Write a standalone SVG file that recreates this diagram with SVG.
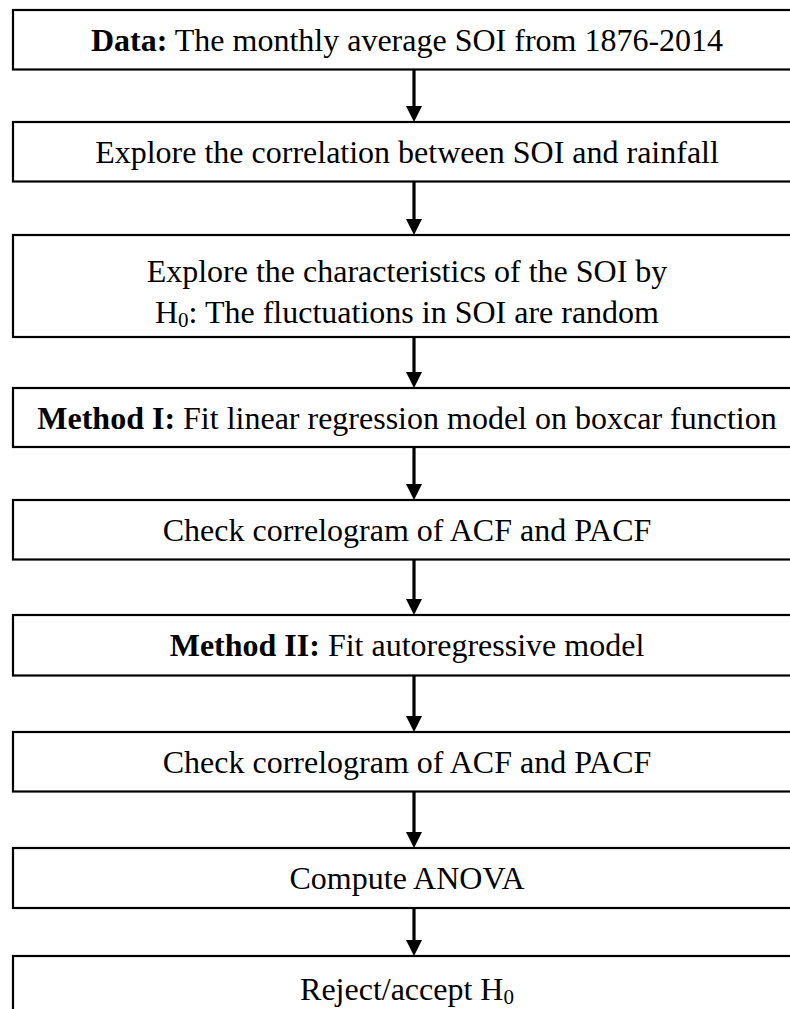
<svg xmlns="http://www.w3.org/2000/svg" width="790" height="1009" viewBox="0 0 790 1009">
<style>
.box{fill:#fff;stroke:#000;stroke-width:2.2}
.t{font-family:"Liberation Serif","Times New Roman",serif;font-size:32px;fill:#000;text-anchor:middle}
.b{font-weight:bold}
.sub{font-size:21px}
.conn{stroke:#000;stroke-width:3.2;fill:none}
</style>
<defs>
<marker id="ah" markerUnits="userSpaceOnUse" markerWidth="17" markerHeight="17" refX="1" refY="8" orient="auto" viewBox="0 0 17 16">
<path d="M0,0 L16,8 L0,16 z" fill="#000"/>
</marker>
</defs>
<rect width="790" height="1009" fill="#fff"/>
<g id="connectors">
<line class="conn" x1="414" y1="69.5" x2="414" y2="107" marker-end="url(#ah)"/>
<line class="conn" x1="414" y1="181.5" x2="414" y2="220" marker-end="url(#ah)"/>
<line class="conn" x1="414" y1="337" x2="414" y2="373" marker-end="url(#ah)"/>
<line class="conn" x1="414" y1="447" x2="414" y2="485" marker-end="url(#ah)"/>
<line class="conn" x1="414" y1="559.5" x2="414" y2="600" marker-end="url(#ah)"/>
<line class="conn" x1="414" y1="675.5" x2="414" y2="717" marker-end="url(#ah)"/>
<line class="conn" x1="414" y1="791.5" x2="414" y2="833" marker-end="url(#ah)"/>
<line class="conn" x1="414" y1="908" x2="414" y2="941" marker-end="url(#ah)"/>
</g>
<g id="n1"><rect class="box" x="13" y="10" width="788" height="59.5"/><text class="t" x="407" y="51"><tspan class="b">Data:</tspan> The monthly average SOI from 1876-2014</text></g>
<g id="n2"><rect class="box" x="13" y="122" width="788" height="59.5"/><text class="t" x="407" y="162.5">Explore the correlation between SOI and rainfall</text></g>
<g id="n3"><rect class="box" x="13" y="235" width="788" height="102"/><text class="t" x="407" y="282">Explore the characteristics of the SOI by</text><text class="t" x="407" y="323">H<tspan class="sub" dy="4">0</tspan><tspan dy="-4">: The fluctuations in SOI are random</tspan></text></g>
<g id="n4"><rect class="box" x="13" y="388" width="788" height="59"/><text class="t" x="407" y="428.5"><tspan class="b">Method I:</tspan> Fit linear regression model on boxcar function</text></g>
<g id="n5"><rect class="box" x="13" y="500" width="788" height="59.5"/><text class="t" x="407" y="540.5">Check correlogram of ACF and PACF</text></g>
<g id="n6"><rect class="box" x="13" y="615" width="788" height="60.5"/><text class="t" x="407" y="656"><tspan class="b">Method II:</tspan> Fit autoregressive model</text></g>
<g id="n7"><rect class="box" x="13" y="732" width="788" height="59.5"/><text class="t" x="407" y="772.5">Check correlogram of ACF and PACF</text></g>
<g id="n8"><rect class="box" x="13" y="848" width="788" height="60"/><text class="t" x="407" y="889">Compute ANOVA</text></g>
<g id="n9"><rect class="box" x="13" y="956" width="788" height="66"/><text class="t" x="407" y="1000">Reject/accept H<tspan class="sub" dy="4">0</tspan></text></g>
</svg>
